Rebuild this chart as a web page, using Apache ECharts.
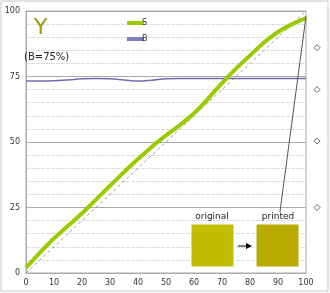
<!DOCTYPE html>
<html><head><meta charset="utf-8">
<script src="https://cdn.jsdelivr.net/npm/echarts@6/dist/echarts.min.js"></script>
<style>html,body{margin:0;padding:0;background:#fff}#c{width:330px;height:293px}</style>
</head><body><div id="c"></div>
<script>
var xTicks = [0,10,20,30,40,50,60,70,80,90,100];
var yTicks = [0,25,50,75,100];
var sX = [0,5,10,15,20,25,30,35,40,45,50,55,60,65,70,75,80,85,90,95,100];
var sY = [2,7.8,13.2,18,22.8,28,33.3,38.5,43.5,48.2,52.5,56.5,61,66.5,72.5,78,83,88,92,95,97.3];
var bX = [0,5,10,15,20,25,30,35,40,45,50,55,60,70,80,90,100];
var bY = [73.3,73.3,73.4,73.7,74.1,74.2,74.1,73.7,73.3,73.6,74.1,74.2,74.2,74.2,74.2,74.2,74.2];
var refX = [0,100];
var refY = [0,100];
var calloutX = [100,90.7];
var calloutY = [98,23.3];
var sideMarks = [86,70,50.4,25];

function pairs(xs, ys){ return xs.map(function(x,i){return [x, ys[i]];}); }

var chart = echarts.init(document.getElementById('c'), null, {renderer:'canvas'});
chart.setOption({
  animation:false,
  backgroundColor:'#fff',
  textStyle:{fontFamily:'DejaVu Sans'},
  grid:[
    {left:26,right:24,top:11,bottom:20,show:true,borderColor:'#aaa',borderWidth:1},
    {left:310,width:14,top:11,bottom:20}
  ],
  xAxis:[
    {type:'value',min:0,max:100,interval:10,gridIndex:0,
     axisLine:{show:true,lineStyle:{color:'#aaa'}},axisTick:{show:false},
     splitLine:{show:false},
     axisLabel:{fontSize:8,color:'#333',margin:6,fontFamily:'DejaVu Sans'}},
    {type:'value',min:-1,max:1,gridIndex:1,show:false}
  ],
  yAxis:[
    {type:'value',min:0,max:100,interval:25,gridIndex:0,
     axisLine:{show:true,lineStyle:{color:'#aaa'}},axisTick:{show:false},
     splitLine:{show:true,lineStyle:{color:'#aaa',width:1}},
     minorTick:{show:true,splitNumber:5,length:0,lineStyle:{color:'#fff',width:0}},
     minorSplitLine:{show:true,lineStyle:{color:'#dcdcdc',width:1,type:[4,1]}},
     axisLabel:{fontSize:8,color:'#333',margin:6,fontFamily:'DejaVu Sans'}},
    {type:'value',min:0,max:100,gridIndex:1,show:false}
  ],
  legend:{
    data:['S','B'],orient:'vertical',left:122,top:14,itemWidth:17,itemHeight:4,itemGap:8,
    icon:'rect',textStyle:{fontSize:8,color:'#333',padding:[0,0,0,-7]}
  },
  series:[
    {name:'ref',type:'line',data:pairs(refX,refY),symbol:'none',silent:true,
     lineStyle:{color:'#999',width:1,type:[3,3]},z:1},
    {name:'B',type:'line',data:pairs(bX,bY),symbol:'none',smooth:0.4,
     lineStyle:{color:'#6f6fb0',width:1.5},itemStyle:{color:'#7f7fc0'},z:2},
    {name:'S',type:'line',data:pairs(sX,sY),symbol:'none',smooth:0.3,
     lineStyle:{color:'#99cc00',width:4},itemStyle:{color:'#99cc00'},z:3},
    {name:'callout',type:'line',data:pairs(calloutX,calloutY),symbol:'none',
     lineStyle:{color:'#555',width:1},z:4},
    {name:'marks',type:'scatter',xAxisIndex:1,yAxisIndex:1,
     data:sideMarks.map(function(v){return [0,v];}),symbol:'diamond',symbolSize:6,
     itemStyle:{color:'#fff',borderColor:'#444',borderWidth:1}}
  ],
  graphic:[
    {type:'rect',shape:{x:1,y:1,width:327,height:290},style:{fill:'none',stroke:'#c8c8c8',lineWidth:1},z:-1},
    {type:'text',x:34,y:17,z:20,style:{text:'Y',fontSize:22,fontFamily:'DejaVu Sans',fill:'#9c9c10'}},
    {type:'text',x:24,y:52,z:20,style:{text:'(B=75%)',fontSize:10,fontFamily:'DejaVu Sans',fill:'#222'}},
    {type:'rect',shape:{x:191,y:224,width:43,height:43},style:{fill:'#c2bd00',stroke:'#fff',lineWidth:1},z:10},
    {type:'rect',shape:{x:256,y:224,width:43,height:43},style:{fill:'#b9aa00',stroke:'#fff',lineWidth:1},z:10},
    {type:'text',x:212,y:212,z:10,style:{text:'original',fontSize:9,fontFamily:'DejaVu Sans',fill:'#222',align:'center'}},
    {type:'text',x:278,y:212,z:10,style:{text:'printed',fontSize:9,fontFamily:'DejaVu Sans',fill:'#222',align:'center'}},
    {type:'line',shape:{x1:238,y1:246,x2:249,y2:246},style:{stroke:'#000',lineWidth:1},z:10},
    {type:'polygon',shape:{points:[[252,246],[246,243],[246,249]]},style:{fill:'#000'},z:10}
  ]
});
</script></body></html>
